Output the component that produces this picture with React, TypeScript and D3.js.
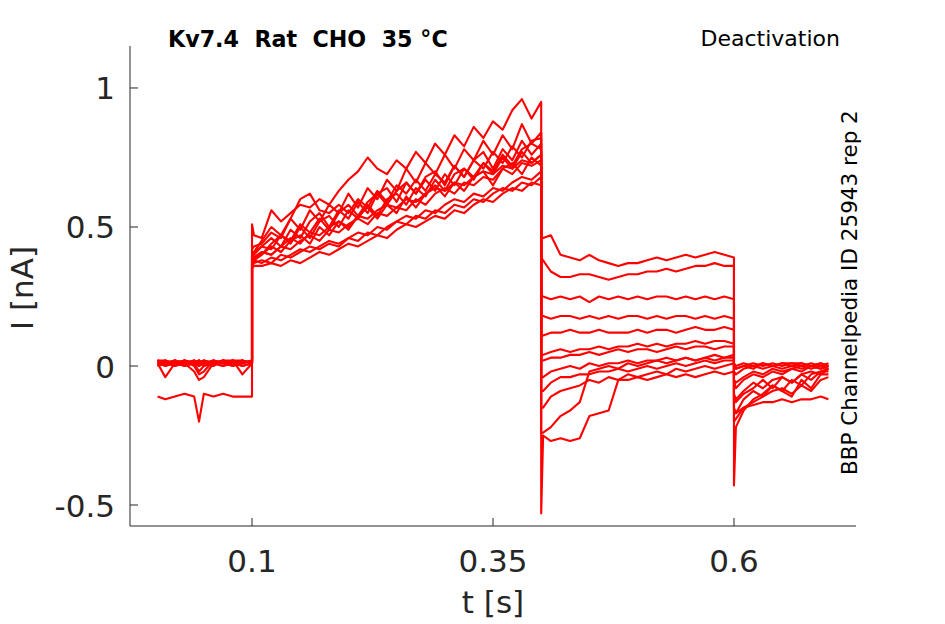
import React from "react";
import * as d3 from "d3";

// ---- time grids (s) ----
const preT = [0.002, 0.01, 0.02, 0.03, 0.04, 0.045, 0.05, 0.06, 0.07, 0.08, 0.09, 0.1];
const actT = [0.1, 0.102, 0.11, 0.12, 0.13, 0.14, 0.15, 0.16, 0.17, 0.18, 0.19, 0.2, 0.21, 0.22, 0.23, 0.24, 0.25, 0.26, 0.27, 0.28, 0.29, 0.3, 0.31, 0.32, 0.33, 0.34, 0.35, 0.36, 0.37, 0.38, 0.39, 0.4];
const deactT = [0.4, 0.402, 0.41, 0.42, 0.43, 0.44, 0.45, 0.46, 0.47, 0.48, 0.49, 0.5, 0.51, 0.52, 0.53, 0.54, 0.55, 0.56, 0.57, 0.58, 0.59, 0.6];
const tailT = [0.6, 0.602, 0.61, 0.62, 0.63, 0.64, 0.65, 0.66, 0.67, 0.68, 0.69, 0.698];

// ---- current values (nA), one row per sweep ----
const preI = [
  [0.02, 0.01, 0.02, 0.01, 0.02, 0.0, 0.02, 0.01, 0.02, 0.01, 0.02, 0.01],
  [0.01, -0.04, 0.01, 0.02, 0.01, 0.01, 0.02, 0.01, 0.02, 0.02, 0.01, 0.02],
  [0.02, 0.01, 0.0, 0.01, -0.02, -0.05, -0.04, 0.01, 0.02, 0.01, 0.0, 0.01],
  [0.01, 0.02, 0.01, 0.02, 0.01, -0.02, 0.0, 0.02, 0.01, 0.02, 0.01, 0.02],
  [0.0, 0.01, 0.02, 0.01, 0.02, 0.01, 0.02, 0.01, 0.0, 0.02, -0.03, 0.01],
  [0.02, 0.02, 0.01, 0.02, 0.0, -0.03, -0.02, 0.02, 0.01, 0.02, 0.02, 0.01],
  [0.01, 0.0, 0.02, 0.01, 0.02, 0.01, 0.01, 0.02, 0.01, 0.0, 0.02, 0.01],
  [0.02, 0.01, 0.01, 0.0, 0.01, 0.02, 0.01, 0.0, 0.02, 0.01, 0.01, 0.02],
  [0.01, 0.02, 0.0, 0.02, 0.01, 0.0, 0.01, 0.02, 0.01, 0.02, 0.0, 0.01],
  [0.0, 0.01, 0.02, 0.0, 0.01, 0.02, 0.01, 0.01, 0.0, 0.01, 0.02, 0.01],
  [0.02, 0.0, 0.01, 0.02, 0.01, 0.02, 0.0, 0.01, 0.02, 0.0, 0.01, 0.02],
  [-0.11, -0.12, -0.11, -0.1, -0.11, -0.2, -0.1, -0.11, -0.1, -0.11, -0.11, -0.11],
];

const actI = [
  [0.42, 0.43, 0.44, 0.48, 0.46, 0.53, 0.6, 0.62, 0.56, 0.55, 0.58, 0.55, 0.6, 0.57, 0.63, 0.59, 0.65, 0.62, 0.67, 0.63, 0.69, 0.66, 0.72, 0.68, 0.74, 0.71, 0.77, 0.73, 0.79, 0.75, 0.81, 0.82],
  [0.51, 0.47, 0.46, 0.56, 0.52, 0.55, 0.58, 0.57, 0.6, 0.58, 0.63, 0.67, 0.7, 0.75, 0.71, 0.69, 0.74, 0.71, 0.77, 0.73, 0.8, 0.76, 0.83, 0.79, 0.86, 0.82, 0.88, 0.85, 0.92, 0.96, 0.89, 0.95],
  [0.4, 0.41, 0.43, 0.42, 0.47, 0.44, 0.5, 0.46, 0.52, 0.54, 0.5, 0.56, 0.53, 0.58, 0.54, 0.6, 0.62, 0.58, 0.64, 0.61, 0.67, 0.63, 0.69, 0.71, 0.67, 0.73, 0.7, 0.76, 0.72, 0.78, 0.8, 0.78],
  [0.39, 0.39, 0.41, 0.4, 0.43, 0.42, 0.45, 0.47, 0.45, 0.49, 0.48, 0.51, 0.53, 0.51, 0.55, 0.54, 0.57, 0.56, 0.6, 0.58, 0.62, 0.64, 0.62, 0.66, 0.65, 0.68, 0.67, 0.71, 0.69, 0.73, 0.72, 0.74],
  [0.37, 0.38, 0.37, 0.39, 0.38, 0.4, 0.42, 0.41, 0.43, 0.45, 0.44, 0.46, 0.48, 0.47, 0.5, 0.49, 0.52, 0.54, 0.53, 0.56, 0.55, 0.58, 0.6, 0.59, 0.62, 0.61, 0.64, 0.63, 0.66, 0.68, 0.67, 0.7],
  [0.38, 0.39, 0.4, 0.43, 0.41, 0.45, 0.47, 0.44, 0.5, 0.47, 0.52, 0.49, 0.54, 0.57, 0.53, 0.58, 0.55, 0.61, 0.57, 0.62, 0.65, 0.61, 0.66, 0.63, 0.68, 0.7, 0.65, 0.71, 0.73, 0.69, 0.75, 0.72],
  [0.36, 0.37, 0.38, 0.37, 0.4, 0.39, 0.41, 0.43, 0.42, 0.44, 0.43, 0.46, 0.45, 0.48, 0.47, 0.5, 0.52, 0.51, 0.54, 0.53, 0.56, 0.55, 0.58, 0.57, 0.6, 0.59, 0.62, 0.64, 0.63, 0.66, 0.65, 0.68],
  [0.37, 0.38, 0.4, 0.44, 0.47, 0.45, 0.51, 0.48, 0.53, 0.49, 0.55, 0.58, 0.54, 0.59, 0.62, 0.58, 0.63, 0.66, 0.62, 0.67, 0.63, 0.69, 0.65, 0.71, 0.68, 0.73, 0.69, 0.75, 0.71, 0.77, 0.73, 0.76],
  [0.4, 0.41, 0.45, 0.5, 0.47, 0.53, 0.49, 0.56, 0.52, 0.58, 0.55, 0.62, 0.57, 0.64, 0.6, 0.67, 0.63, 0.71, 0.66, 0.73, 0.69, 0.76, 0.71, 0.78, 0.74, 0.81, 0.76, 0.83, 0.78, 0.87, 0.8, 0.84],
  [0.39, 0.4, 0.43, 0.46, 0.43, 0.49, 0.46, 0.52, 0.55, 0.5, 0.56, 0.53, 0.59, 0.55, 0.62, 0.64, 0.59, 0.66, 0.62, 0.68, 0.7, 0.65, 0.72, 0.68, 0.74, 0.77, 0.71, 0.78, 0.74, 0.81, 0.76, 0.8],
  [0.38, 0.39, 0.41, 0.4, 0.43, 0.46, 0.44, 0.48, 0.47, 0.5, 0.52, 0.5, 0.54, 0.53, 0.56, 0.58, 0.57, 0.6, 0.59, 0.62, 0.64, 0.63, 0.66, 0.65, 0.68, 0.7, 0.69, 0.72, 0.71, 0.74, 0.73, 0.76],
  [0.35, 0.36, 0.36, 0.37, 0.36, 0.38, 0.37, 0.39, 0.41, 0.4, 0.42, 0.44, 0.43, 0.45, 0.47, 0.46, 0.49, 0.51, 0.5, 0.52, 0.54, 0.53, 0.56, 0.55, 0.58, 0.6, 0.59, 0.62, 0.64, 0.63, 0.66, 0.65],
];

const deactI = [
  [0.46, 0.46, 0.47, 0.4, 0.39, 0.38, 0.4, 0.38, 0.37, 0.36, 0.37, 0.37, 0.38, 0.39, 0.38, 0.39, 0.4, 0.39, 0.4, 0.41, 0.4, 0.39],
  [0.39, 0.38, 0.34, 0.32, 0.32, 0.33, 0.33, 0.32, 0.31, 0.32, 0.33, 0.33, 0.34, 0.34, 0.35, 0.34, 0.35, 0.36, 0.36, 0.37, 0.36, 0.36],
  [0.25, 0.25, 0.24, 0.25, 0.24, 0.25, 0.23, 0.25, 0.24, 0.25, 0.24, 0.25, 0.24, 0.25, 0.25, 0.24, 0.25, 0.24, 0.25, 0.24, 0.25, 0.24],
  [0.18, 0.18, 0.17, 0.18, 0.18, 0.17, 0.18, 0.17, 0.18, 0.17, 0.18, 0.18, 0.17, 0.18, 0.17, 0.18, 0.18, 0.17, 0.18, 0.17, 0.18, 0.17],
  [0.11, 0.11, 0.12, 0.12, 0.13, 0.12, 0.12, 0.13, 0.12, 0.12, 0.12, 0.13, 0.12, 0.13, 0.13, 0.12, 0.13, 0.14, 0.13, 0.13, 0.14, 0.13],
  [0.04, 0.04, 0.05, 0.06, 0.05, 0.06, 0.06, 0.07, 0.06, 0.07, 0.07, 0.08, 0.07, 0.08, 0.07, 0.08, 0.08, 0.09, 0.08, 0.09, 0.09, 0.08],
  [0.02, 0.02, 0.03, 0.03, 0.04, 0.04, 0.05, 0.04, 0.05, 0.06, 0.05, 0.06, 0.06, 0.05, 0.06, 0.07, 0.06, 0.07, 0.07, 0.06, 0.07, 0.07],
  [-0.04, -0.04, -0.02, -0.01, 0.0, -0.01, 0.01, 0.0, 0.01, 0.01, 0.02, 0.01, 0.02, 0.02, 0.03, 0.02, 0.03, 0.02, 0.03, 0.04, 0.03, 0.04],
  [-0.09, -0.09, -0.06, -0.04, -0.04, -0.03, -0.03, -0.02, -0.02, -0.01, -0.02, -0.01, 0.0, -0.01, 0.0, 0.01, 0.0, 0.01, 0.02, 0.01, 0.02, 0.02],
  [-0.15, -0.15, -0.11, -0.09, -0.08, -0.07, -0.05, -0.06, -0.04, -0.05, -0.03, -0.04, -0.03, -0.02, -0.03, -0.01, -0.02, -0.01, 0.0, -0.01, 0.0, 0.01],
  [-0.24, -0.24, -0.22, -0.18, -0.16, -0.13, -0.02, -0.01, 0.0, -0.01, 0.01, 0.0, 0.01, 0.02, 0.01, 0.02, 0.03, 0.02, 0.03, 0.02, 0.03, 0.03],
  [-0.53, -0.25, -0.27, -0.26, -0.27, -0.26, -0.18, -0.17, -0.16, -0.05, -0.05, -0.04, -0.05, -0.04, -0.03, -0.04, -0.03, -0.04, -0.03, -0.02, -0.03, -0.02],
];

const tailI = [
  [0.01, 0.0, 0.01, 0.0, 0.01, 0.0, 0.01, 0.01, 0.0, 0.01, 0.0, 0.01],
  [0.0, -0.01, 0.0, 0.01, 0.0, 0.01, 0.0, 0.01, 0.01, 0.0, 0.01, 0.0],
  [-0.02, -0.03, -0.01, 0.0, -0.01, 0.0, -0.01, 0.0, 0.01, 0.0, -0.01, 0.0],
  [-0.05, -0.06, -0.04, -0.02, -0.03, -0.01, -0.02, -0.01, 0.0, -0.01, 0.0, -0.01],
  [-0.12, -0.13, -0.1, -0.08, -0.05, -0.08, -0.04, -0.06, -0.03, -0.05, -0.02, -0.02],
  [-0.43, -0.22, -0.16, -0.12, -0.1, -0.07, -0.09, -0.05, -0.07, -0.03, -0.02, -0.01],
  [-0.15, -0.17, -0.12, -0.09, -0.11, -0.07, -0.09, -0.11, -0.05, -0.08, -0.03, -0.03],
  [-0.1, -0.12, -0.09, -0.06, -0.08, -0.05, -0.04, -0.06, -0.03, -0.02, -0.03, -0.01],
  [-0.05, -0.08, -0.05, -0.03, -0.04, -0.02, -0.03, -0.01, -0.02, 0.0, -0.01, 0.0],
  [-0.2, -0.19, -0.15, -0.13, -0.11, -0.09, -0.08, -0.1, -0.07, -0.09, -0.05, -0.04],
  [0.01, -0.01, 0.0, -0.01, 0.01, 0.0, 0.01, 0.0, -0.01, 0.0, 0.01, 0.0],
  [-0.16, -0.17, -0.15, -0.14, -0.13, -0.13, -0.12, -0.13, -0.12, -0.12, -0.11, -0.12],
];

const xTicks = [0.1, 0.35, 0.6];
const yTicks = [-0.5, 0, 0.5, 1];

const titleText = "Kv7.4  Rat  CHO  35 °C";
const protocolText = "Deactivation";
const sideText = "BBP Channelpedia ID 25943 rep 2";

const W = 945;
const H = 624;
const AX = "#262626";
const FONT = "'DejaVu Sans', sans-serif";

export default function App() {
  const x = d3.scaleLinear().domain([-0.0266, 0.7266]).range([130, 856]);
  const y = d3.scaleLinear().domain([-0.5755, 1.151]).range([526, 46]);

  const line = d3
    .line<[number, number]>()
    .x((d) => x(d[0]))
    .y((d) => y(d[1]));

  const sweeps = preI.map((_, i) => {
    const pts: [number, number][] = [];
    preT.forEach((t, k) => pts.push([t, preI[i][k]]));
    actT.forEach((t, k) => pts.push([t, actI[i][k]]));
    deactT.forEach((t, k) => pts.push([t, deactI[i][k]]));
    tailT.forEach((t, k) => pts.push([t, tailI[i][k]]));
    return pts;
  });

  const [x0, x1] = x.range();
  const [yb, yt] = y.range();

  return (
    <svg
      width={W}
      height={H}
      style={{ position: "absolute", left: 0, top: 0, background: "#fff" }}
      fontFamily={FONT}
    >
      <rect x={0} y={0} width={W} height={H} fill="#fff" />
      {sweeps.map((pts, i) => (
        <path
          key={i}
          d={line(pts) || ""}
          fill="none"
          stroke="#ff0000"
          strokeWidth={2.1}
          strokeLinejoin="round"
        />
      ))}
      {/* axes */}
      <line x1={x0} y1={yb} x2={x1} y2={yb} stroke={AX} strokeWidth={1} />
      <line x1={x0} y1={yb} x2={x0} y2={yt} stroke={AX} strokeWidth={1} />
      {xTicks.map((t) => (
        <g key={"x" + t}>
          <line x1={x(t)} x2={x(t)} y1={yb} y2={yb - 8} stroke={AX} strokeWidth={1} />
          <text x={x(t)} y={572} textAnchor="middle" fontSize={31} fill={AX}>
            {String(t)}
          </text>
        </g>
      ))}
      {yTicks.map((t) => (
        <g key={"y" + t}>
          <line x1={x0} x2={x0 + 8} y1={y(t)} y2={y(t)} stroke={AX} strokeWidth={1} />
          <text x={115} y={y(t) + 11.5} textAnchor="end" fontSize={31} fill={AX}>
            {String(t)}
          </text>
        </g>
      ))}
      <text x={x(0.35)} y={613} textAnchor="middle" fontSize={31} fill={AX}>
        t [s]
      </text>
      <text
        transform={`translate(33, 288) rotate(-90)`}
        textAnchor="middle"
        fontSize={31}
        fill={AX}
      >
        I [nA]
      </text>
      <text x={168} y={47} fontSize={22.2} fontWeight="bold" fill="#000" style={{ whiteSpace: "pre" }}>
        {titleText}
      </text>
      <text x={840} y={46} textAnchor="end" fontSize={22} fill="#000">
        {protocolText}
      </text>
      <text
        transform={`translate(857, 475) rotate(-90)`}
        textAnchor="start"
        fontSize={21.5}
        fill="#000"
      >
        {sideText}
      </text>
    </svg>
  );
}
